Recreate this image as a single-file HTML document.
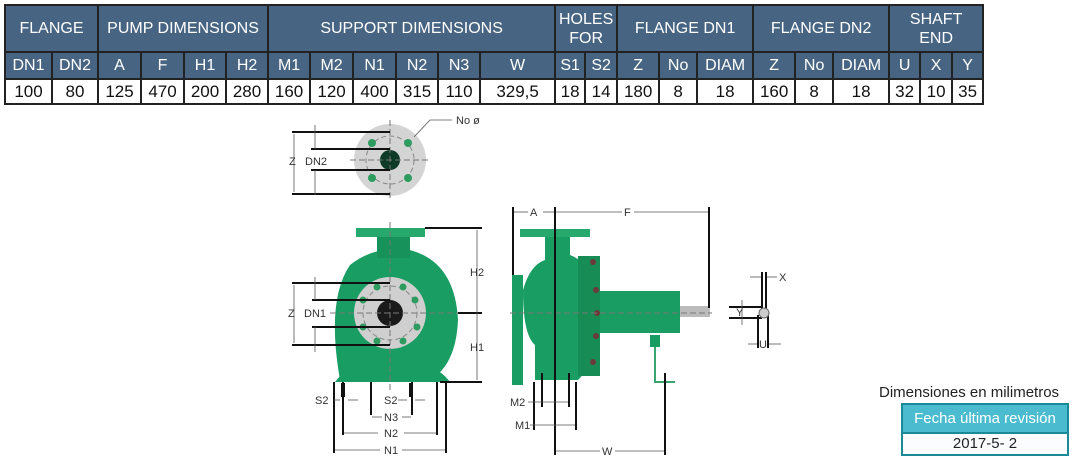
<!DOCTYPE html>
<html><head><meta charset="utf-8"><style>
html,body{margin:0;padding:0;background:#fff;width:1073px;height:470px;overflow:hidden;position:relative;font-family:"Liberation Sans",sans-serif}
table{position:absolute;left:4px;top:4px;border-collapse:collapse;table-layout:fixed;width:980px}
td{border:2px solid #222;text-align:center;padding:0;font-size:16px;white-space:nowrap;overflow:hidden}
tr.h td{background:#476482;color:#fff}
tr.r1 td{height:45px;line-height:19px}
tr.r2 td{height:25px}
tr.r3 td{height:23px;color:#111;font-size:17px}
svg{position:absolute;left:0;top:0}
.lbl{font-size:11px;fill:#333}
</style></head><body>
<table>
<colgroup>
<col style="width:47px"><col style="width:46px"><col style="width:43px"><col style="width:43px"><col style="width:42px"><col style="width:42px"><col style="width:42px"><col style="width:43px"><col style="width:43px"><col style="width:42px"><col style="width:42px"><col style="width:75px"><col style="width:30px"><col style="width:32px"><col style="width:42px"><col style="width:38px"><col style="width:56px"><col style="width:42px"><col style="width:38px"><col style="width:56px"><col style="width:31px"><col style="width:32px"><col style="width:31px">
</colgroup>
<tr class="h r1"><td colspan="2">FLANGE</td><td colspan="4">PUMP DIMENSIONS</td><td colspan="6">SUPPORT DIMENSIONS</td><td colspan="2">HOLES<br>FOR</td><td colspan="3">FLANGE DN1</td><td colspan="3">FLANGE DN2</td><td colspan="3">SHAFT<br>END</td></tr>
<tr class="h r2"><td>DN1</td><td>DN2</td><td>A</td><td>F</td><td>H1</td><td>H2</td><td>M1</td><td>M2</td><td>N1</td><td>N2</td><td>N3</td><td>W</td><td>S1</td><td>S2</td><td>Z</td><td>No</td><td>DIAM</td><td>Z</td><td>No</td><td>DIAM</td><td>U</td><td>X</td><td>Y</td></tr>
<tr class="r3"><td>100</td><td>80</td><td>125</td><td>470</td><td>200</td><td>280</td><td>160</td><td>120</td><td>400</td><td>315</td><td>110</td><td>329,5</td><td>18</td><td>14</td><td>180</td><td>8</td><td>18</td><td>160</td><td>8</td><td>18</td><td>32</td><td>10</td><td>35</td></tr>
</table>

<svg width="1073" height="470" viewBox="0 0 1073 470">
<!-- top flange view -->
<circle cx="390" cy="160" r="36" fill="#d4d4d4"/>
<circle cx="390" cy="160" r="24" fill="none" stroke="#888" stroke-dasharray="5,3"/>
<circle cx="390" cy="160" r="10" fill="#0e3a26"/>
<g fill="#2e9b5f"><circle cx="372" cy="143" r="4"/><circle cx="408" cy="143" r="4"/><circle cx="372" cy="178" r="4"/><circle cx="408" cy="178" r="4"/></g>
<line x1="350" y1="160" x2="430" y2="160" stroke="#777" stroke-dasharray="6,3"/>
<line x1="390" y1="120" x2="390" y2="200" stroke="#777" stroke-dasharray="6,3"/>
<g stroke="#111" stroke-width="2"><line x1="292" y1="132" x2="390" y2="132"/><line x1="311" y1="149" x2="390" y2="149"/><line x1="311" y1="170" x2="390" y2="170"/><line x1="292" y1="194" x2="390" y2="194"/></g>
<g stroke="#555" stroke-width="0.8"><line x1="294" y1="134" x2="294" y2="192"/><line x1="315" y1="125" x2="315" y2="149"/><line x1="315" y1="170" x2="315" y2="195"/><polyline points="414,137 430,120 452,120" fill="none"/></g>
<text x="289" y="165" class="lbl">Z</text><text x="305" y="165" class="lbl">DN2</text><text x="456" y="124" class="lbl">No ø</text>

<!-- front view -->
<path d="M340 380 Q326 300 350 265 Q375 245 410 250 Q455 262 458 320 Q456 365 430 380 Z" fill="#1a9d62"/>
<rect x="377" y="236" width="33" height="22" fill="#17925a"/>
<rect x="356" y="228" width="69" height="9" fill="#27a86c"/>
<path d="M335 382 Q350 362 365 370 L415 370 Q435 362 450 382 Z" fill="#1a9d62"/>
<circle cx="390" cy="313" r="36" fill="#cfcfcf"/>
<circle cx="390" cy="313" r="27" fill="none" stroke="#888" stroke-dasharray="5,3"/>
<circle cx="390" cy="313" r="13" fill="#1a1a1a"/>
<g fill="#2e9b5f"><circle cx="403" cy="287" r="3.5"/><circle cx="415" cy="300" r="3.5"/><circle cx="417" cy="327" r="3.5"/><circle cx="403" cy="341" r="3.5"/><circle cx="377" cy="341" r="3.5"/><circle cx="363" cy="327" r="3.5"/><circle cx="363" cy="300" r="3.5"/><circle cx="377" cy="287" r="3.5"/></g>
<line x1="330" y1="313" x2="460" y2="313" stroke="#777" stroke-dasharray="6,3"/>
<line x1="390" y1="222" x2="390" y2="390" stroke="#777" stroke-dasharray="6,3"/>
<g stroke="#111" stroke-width="2">
<line x1="425" y1="228" x2="482" y2="228"/><line x1="458" y1="313" x2="482" y2="313"/><line x1="440" y1="382" x2="482" y2="382"/>
<line x1="292" y1="283" x2="390" y2="283"/><line x1="312" y1="300" x2="390" y2="300"/><line x1="312" y1="327" x2="390" y2="327"/><line x1="292" y1="345" x2="390" y2="345"/>
<line x1="334" y1="382" x2="334" y2="453"/><line x1="343" y1="382" x2="343" y2="435"/><line x1="371" y1="382" x2="371" y2="415"/><line x1="412" y1="382" x2="412" y2="415"/><line x1="437" y1="382" x2="437" y2="435"/><line x1="446" y1="382" x2="446" y2="453"/>
</g>
<rect x="341" y="383" width="4" height="14" fill="#111"/><rect x="409" y="383" width="4" height="14" fill="#111"/>
<g stroke="#555" stroke-width="0.8">
<line x1="477" y1="230" x2="477" y2="380"/><line x1="294" y1="285" x2="294" y2="343"/><line x1="315" y1="277" x2="315" y2="300"/><line x1="315" y1="327" x2="315" y2="352"/>
<line x1="334" y1="400" x2="340" y2="400"/><line x1="348" y1="400" x2="358" y2="400"/><line x1="398" y1="400" x2="407" y2="400"/><line x1="415" y1="400" x2="425" y2="400"/>
<line x1="372" y1="417" x2="382" y2="417"/><line x1="402" y1="417" x2="411" y2="417"/>
<line x1="344" y1="433" x2="378" y2="433"/><line x1="404" y1="433" x2="436" y2="433"/>
<line x1="335" y1="450" x2="380" y2="450"/><line x1="402" y1="450" x2="445" y2="450"/>
</g>
<text x="470" y="276" class="lbl">H2</text><text x="470" y="351" class="lbl">H1</text>
<text x="288" y="317" class="lbl">Z</text><text x="304" y="317" class="lbl">DN1</text>
<text x="315" y="404" class="lbl">S2</text><text x="384" y="404" class="lbl">S2</text>
<text x="384" y="421" class="lbl">N3</text><text x="384" y="437" class="lbl">N2</text><text x="384" y="454" class="lbl">N1</text>

<!-- side view -->
<rect x="512" y="275" width="11" height="110" fill="#1a9d62"/>
<path d="M523 290 Q530 265 545 260 L545 236 L570 236 L570 255 Q590 262 592 290 L600 290 L600 335 L592 335 Q590 370 578 380 L535 380 L535 345 Q523 335 523 290 Z" fill="#1a9d62"/>
<rect x="520" y="229" width="70" height="8" fill="#27a86c"/>
<rect x="578" y="256" width="22" height="120" fill="#178c55"/>
<g fill="#6b3a3a"><circle cx="593" cy="262" r="3"/><circle cx="596" cy="290" r="3"/><circle cx="597" cy="313" r="3"/><circle cx="596" cy="336" r="3"/><circle cx="593" cy="362" r="3"/></g>
<rect x="600" y="291" width="80" height="42" fill="#1a9d62"/>
<rect x="680" y="306" width="30" height="11" fill="#bbb"/>
<rect x="650" y="335" width="10" height="12" fill="#1a9d62"/>
<polyline points="655,347 655,382 675,382" fill="none" stroke="#3aa56f" stroke-width="2"/>
<line x1="510" y1="313" x2="712" y2="313" stroke="#777" stroke-dasharray="6,3"/>
<g stroke="#111" stroke-width="2">
<line x1="513" y1="207" x2="513" y2="275"/><line x1="555" y1="207" x2="555" y2="455"/><line x1="709" y1="207" x2="709" y2="308"/>
<line x1="542" y1="373" x2="542" y2="407"/><line x1="569" y1="373" x2="569" y2="407"/><line x1="534" y1="382" x2="534" y2="430"/><line x1="576" y1="382" x2="576" y2="430"/><line x1="665" y1="373" x2="665" y2="455"/>
<line x1="762" y1="272" x2="762" y2="312"/><line x1="766" y1="272" x2="766" y2="312"/>
<line x1="729" y1="307" x2="762" y2="307"/><line x1="729" y1="318" x2="762" y2="318"/>
<line x1="758" y1="315" x2="758" y2="348"/><line x1="768" y1="315" x2="768" y2="348"/>
</g>
<circle cx="764" cy="313" r="5" fill="#ccc" stroke="#666"/>
<g stroke="#555" stroke-width="0.8">
<line x1="514" y1="212" x2="528" y2="212"/><line x1="543" y1="212" x2="554" y2="212"/><line x1="556" y1="212" x2="622" y2="212"/><line x1="634" y1="212" x2="708" y2="212"/>
<line x1="528" y1="402" x2="568" y2="402"/><line x1="530" y1="425" x2="575" y2="425"/>
<line x1="556" y1="451" x2="600" y2="451"/><line x1="615" y1="451" x2="664" y2="451"/>
<line x1="750" y1="277" x2="761" y2="277"/><line x1="767" y1="277" x2="777" y2="277"/>
<line x1="742" y1="300" x2="742" y2="325"/><line x1="748" y1="344" x2="757" y2="344"/><line x1="769" y1="344" x2="781" y2="344"/>
</g>
<text x="530" y="216" class="lbl">A</text><text x="624" y="216" class="lbl">F</text>
<text x="510" y="406" class="lbl">M2</text><text x="515" y="429" class="lbl">M1</text><text x="602" y="455" class="lbl">W</text>
<text x="779" y="281" class="lbl">X</text><text x="736" y="316" class="lbl">Y</text><text x="759" y="348" class="lbl">U</text>
</svg>

<div style="position:absolute;left:879px;top:384px;font-size:15px;color:#222">Dimensiones en milimetros</div>
<div style="position:absolute;left:901px;top:403px;width:164px;height:27px;border:2px solid #1b8a98;border-bottom:none;background:#4bbccf;color:#fff;font-size:15px;line-height:27px;text-align:center">Fecha última revisión</div>
<div style="position:absolute;left:901px;top:432px;width:164px;height:20px;border:2px solid #1b8a98;background:#fafcff;color:#222;font-size:15px;line-height:20px;text-align:center">2017-5- 2</div>
</body></html>
